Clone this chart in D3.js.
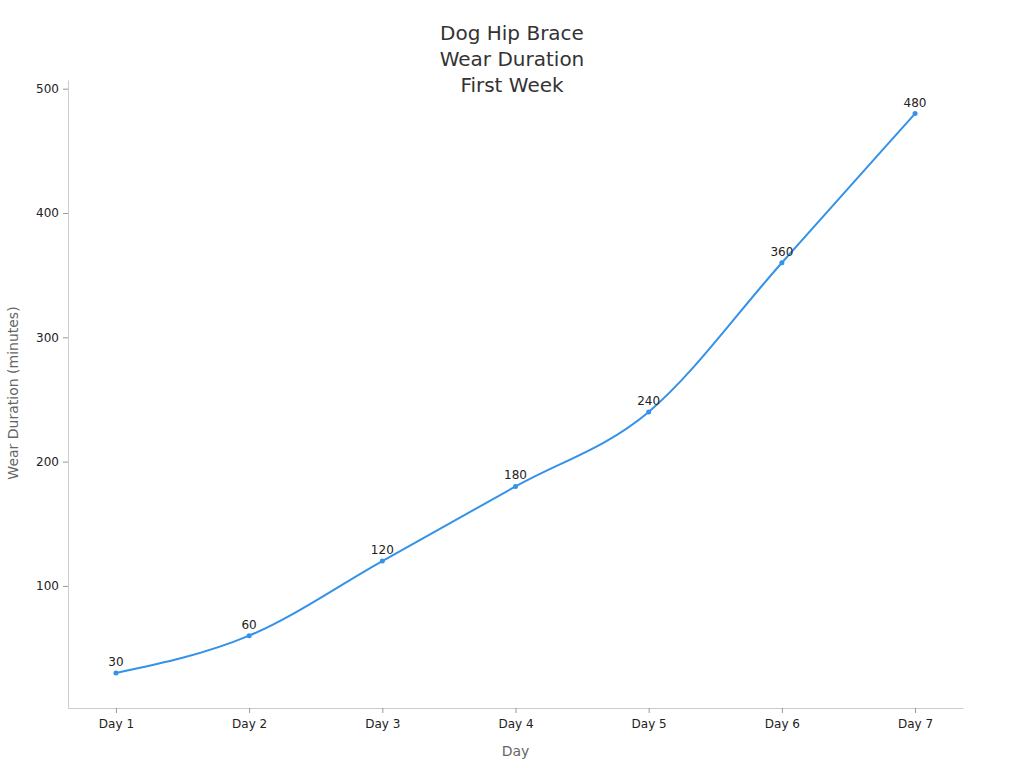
<!DOCTYPE html>
<html>
<head>
<meta charset="utf-8">
<script src="https://cdn.jsdelivr.net/npm/d3@7"></script>
<style>
  body { margin: 0; background: #fff; }
  svg { font-family: "DejaVu Sans", sans-serif; }
</style>
</head>
<body>
<div id="chart"></div>
<script>
// chart data
var days = ["Day 1", "Day 2", "Day 3", "Day 4", "Day 5", "Day 6", "Day 7"];
var minutes = [30, 60, 120, 180, 240, 360, 480];
var yTicks = [100, 200, 300, 400, 500];
var titleLines = ["Dog Hip Brace", "Wear Duration", "First Week"];

var WIDTH = 1024, HEIGHT = 768;
var margin = {top: 80, right: 61, bottom: 60, left: 68};
var width = WIDTH - margin.left - margin.right,
    height = HEIGHT - margin.top - margin.bottom;

var svg = d3.select("#chart").append("svg")
  .attr("width", WIDTH)
  .attr("height", HEIGHT);

// title
svg.append("g").selectAll("text")
  .data(titleLines)
  .join("text")
    .attr("x", 512)
    .attr("y", (d, i) => 40 + i * 26)
    .attr("text-anchor", "middle")
    .style("font-size", "20px")
    .style("fill", "#333")
    .text(d => d);

var g = svg.append("g")
  .attr("transform", `translate(${margin.left},${margin.top})`);

var x = d3.scalePoint()
  .domain(days)
  .range([0, width])
  .padding(0.36);

var y = d3.scaleLinear()
  .domain([1.8, 507])
  .range([height, 0]);

// x axis
var xAxis = g.append("g")
  .attr("transform", `translate(0,${height})`)
  .call(d3.axisBottom(x).tickSize(5).tickSizeOuter(0).tickPadding(6));
xAxis.select(".domain").attr("stroke", "#ccc");
xAxis.selectAll(".tick line").attr("stroke", "#999");
xAxis.selectAll(".tick text").style("font-size", "12px").style("fill", "#222")
  .style("font-family", "DejaVu Sans, sans-serif");

// y axis
var yAxis = g.append("g")
  .call(d3.axisLeft(y).tickValues(yTicks).tickSize(5).tickSizeOuter(0).tickPadding(4));
yAxis.select(".domain").attr("stroke", "#ccc");
yAxis.selectAll(".tick line").attr("stroke", "#999");
yAxis.selectAll(".tick text").style("font-size", "12px").style("fill", "#222")
  .style("font-family", "DejaVu Sans, sans-serif");

// axis titles
svg.append("text")
  .attr("x", margin.left + width / 2)
  .attr("y", 756)
  .attr("text-anchor", "middle")
  .style("font-size", "14px")
  .style("fill", "#666")
  .text("Day");

svg.append("text")
  .attr("transform", "translate(18,393) rotate(-90)")
  .attr("text-anchor", "middle")
  .style("font-size", "14px")
  .style("fill", "#666")
  .text("Wear Duration (minutes)");

var pts = days.map((d, i) => ({day: d, value: minutes[i]}));

var line = d3.line()
  .x(d => x(d.day))
  .y(d => y(d.value))
  .curve(d3.curveMonotoneX);

g.append("path")
  .datum(pts)
  .attr("fill", "none")
  .attr("stroke", "#3592e8")
  .attr("stroke-width", 2)
  .attr("d", line);

g.selectAll("circle.pt")
  .data(pts)
  .join("circle")
    .attr("class", "pt")
    .attr("cx", d => x(d.day))
    .attr("cy", d => y(d.value))
    .attr("r", 2.5)
    .attr("fill", "#3592e8");

g.selectAll("text.lbl")
  .data(pts)
  .join("text")
    .attr("class", "lbl")
    .attr("x", d => x(d.day))
    .attr("y", d => y(d.value) - 7)
    .attr("text-anchor", "middle")
    .style("font-size", "12px")
    .style("fill", "#222")
    .text(d => d.value);
</script>
</body>
</html>
